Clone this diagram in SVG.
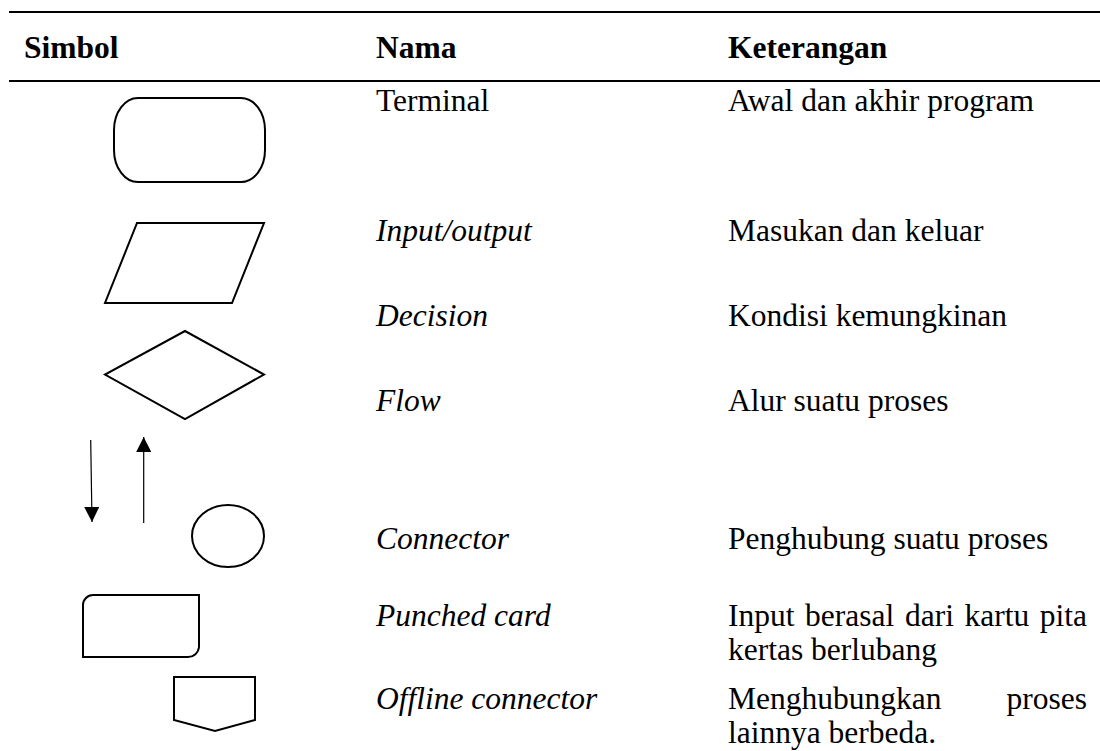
<svg xmlns="http://www.w3.org/2000/svg" width="1100" height="751" viewBox="0 0 1100 751">
<defs>
<style>
.t{font-family:"Liberation Serif","Times New Roman",serif;font-size:31.5px;fill:#000}
.b{font-weight:bold}
.i{font-style:italic}
.s{fill:none;stroke:#000;stroke-width:2}
.rule{stroke:#000;stroke-width:2.2}
.ar{stroke:#000;stroke-width:1.2;fill:none}
</style>
<marker id="ah" viewBox="0 0 10 10" refX="10" refY="5" markerWidth="15" markerHeight="15" markerUnits="userSpaceOnUse" orient="auto">
<path d="M0,0 L10,5 L0,10 z" fill="#000"/>
</marker>
</defs>
<rect width="1100" height="751" fill="#fff"/>
<g id="rules">
<line class="rule" x1="9" y1="12" x2="1100" y2="12"/>
<line class="rule" x1="9" y1="81" x2="1100" y2="81"/>
</g>
<g id="header">
<text class="t b" x="24" y="58">Simbol</text>
<text class="t b" x="376" y="58">Nama</text>
<text class="t b" x="728" y="58">Keterangan</text>
</g>
<g id="terminal">
<rect class="s" x="114" y="98" width="151" height="84" rx="24" ry="32"/>
<text class="t" x="376" y="111">Terminal</text>
<text class="t" x="728" y="111">Awal dan akhir program</text>
</g>
<g id="io">
<polygon class="s" points="137,223 264,223 232,303 105,303"/>
<text class="t i" x="376" y="241">Input/output</text>
<text class="t" x="728" y="241">Masukan dan keluar</text>
</g>
<g id="decision">
<polygon class="s" points="185,331 264,374.5 185,419 105,374.5"/>
<text class="t i" x="376" y="326">Decision</text>
<text class="t" x="728" y="326">Kondisi kemungkinan</text>
</g>
<g id="flow">
<text class="t i" x="376" y="411">Flow</text>
<text class="t" x="728" y="411">Alur suatu proses</text>
</g>
<g id="connector">
<ellipse class="s" cx="228" cy="536" rx="36" ry="31"/>
<text class="t i" x="376" y="549">Connector</text>
<text class="t" x="728" y="549">Penghubung suatu proses</text>
</g>
<g id="punched">
<path class="s" d="M93,595 H199 V647 A11,11 0 0 1 188,657 H83 V605 A10,10 0 0 1 93,595 Z"/>
<text class="t i" x="376" y="626">Punched card</text>
<text class="t" x="728" y="626">Input</text>
<text class="t" x="805" y="626">berasal</text>
<text class="t" x="905" y="626">dari</text>
<text class="t" x="964.5" y="626">kartu</text>
<text class="t" x="1087" y="626" text-anchor="end">pita</text>
<text class="t" x="728" y="660">kertas berlubang</text>
</g>
<g id="offline">
<polygon class="s" points="174,677 255,677 255,720 215,731 174,720"/>
<text class="t i" x="376" y="709">Offline connector</text>
<text class="t" x="728" y="709">Menghubungkan</text>
<text class="t" x="1087" y="709" text-anchor="end">proses</text>
<text class="t" x="728" y="743">lainnya berbeda.</text>
</g>
<g id="connectors">
<line class="ar" x1="90.7" y1="440" x2="92" y2="522" marker-end="url(#ah)"/>
<line class="ar" x1="143.7" y1="523" x2="143.7" y2="437" marker-end="url(#ah)"/>
</g>
</svg>
